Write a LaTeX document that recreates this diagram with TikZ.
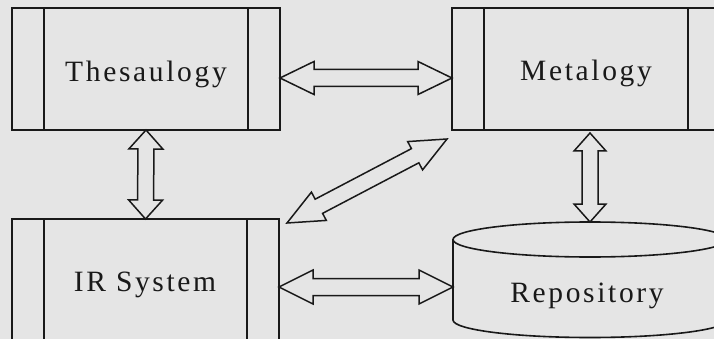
\documentclass[tikz,border=0pt]{standalone}
\usepackage{fontspec}
\setmainfont{Liberation Serif}
\newfontfamily\lblfont[LetterSpace=9]{Liberation Serif}
\usetikzlibrary{calc}
\definecolor{bg}{RGB}{229,229,229}
\definecolor{ink}{RGB}{25,25,25}
\tikzset{
  box/.style={draw=ink, line width=1.6pt, minimum width=268pt, minimum height=122pt,
    inner sep=0pt, outer sep=0pt, anchor=north west},
  divider/.style={draw=ink, line width=1.6pt},
  lbl/.style={font=\lblfont\fontsize{29.5}{35}\selectfont, text=ink, anchor=base, inner sep=0pt},
  fat/.style={draw=ink, line width=1.5pt, line join=miter, fill=bg},
}
\newcommand\fatdbl[5]{%
  \path (#1) coordinate (fa) (#2) coordinate (fb);
  \draw[fat] (fa) -- ($(fa)!#3!(fb)!#4!90:(fb)$) -- ($(fa)!#3!(fb)!#5!90:(fb)$)
    -- ($(fb)!#3!(fa)!#5!-90:(fa)$) -- ($(fb)!#3!(fa)!#4!-90:(fa)$) -- (fb)
    -- ($(fb)!#3!(fa)!#4!90:(fa)$) -- ($(fb)!#3!(fa)!#5!90:(fa)$)
    -- ($(fa)!#3!(fb)!#5!-90:(fb)$) -- ($(fa)!#3!(fb)!#4!-90:(fb)$) -- cycle;}
\begin{document}
\begin{tikzpicture}[x=1pt,y=-1pt]
  \useasboundingbox (0,0) rectangle (714,339);
  \fill[bg] (0,0) rectangle (714,339);
  \clip (0,0) rectangle (714,339);

  % boxes
  \node[box] (T) at (12,8) {};
  \node[box] (M) at (452,8) {};
  \node[box, minimum width=267pt] (IR) at (12,219) {};
  \foreach \b in {T,M,IR}{
    \draw[divider] ([xshift=32pt]\b.north west) -- ([xshift=32pt]\b.south west);
    \draw[divider] ([xshift=-32pt]\b.north east) -- ([xshift=-32pt]\b.south east);
  }

  % repository cylinder
  \coordinate (Rtop) at (590,222);
  \coordinate (Rleft) at (453,287);
  \draw[divider, fill=bg] (453,239.5) -- (453,320)
     arc[start angle=180, end angle=0, x radius=137, y radius=17.5] -- (727,239.5);
  \draw[divider] (590,239.5) ellipse[x radius=137, y radius=17.5];

  % labels
  \node[lbl] (Tl) at (146,82) {Thesaulogy};
  \node[lbl] (Ml) at (586,81) {Metalogy};
  \node[lbl] (IRl) at (145,291) {IR System};
  \node[lbl] (Rl) at (587,302) {Repository};

  % connectors
  \fatdbl{[yshift=-9pt]T.east}{[yshift=-9pt]M.west}{34pt}{16.5pt}{8.5pt}
  \fatdbl{T.south}{IR.north}{19pt}{17pt}{8pt}
  \fatdbl{[xshift=4pt,yshift=-3pt]M.south}{Rtop}{18pt}{16pt}{8pt}
  \fatdbl{[yshift=-7pt]IR.east}{Rleft}{34pt}{17pt}{8.5pt}
  \fatdbl{[xshift=8pt,yshift=-4pt]IR.north east}{[xshift=-5pt,yshift=-9pt]M.south west}{36pt}{16pt}{8pt}
\end{tikzpicture}
\end{document}
